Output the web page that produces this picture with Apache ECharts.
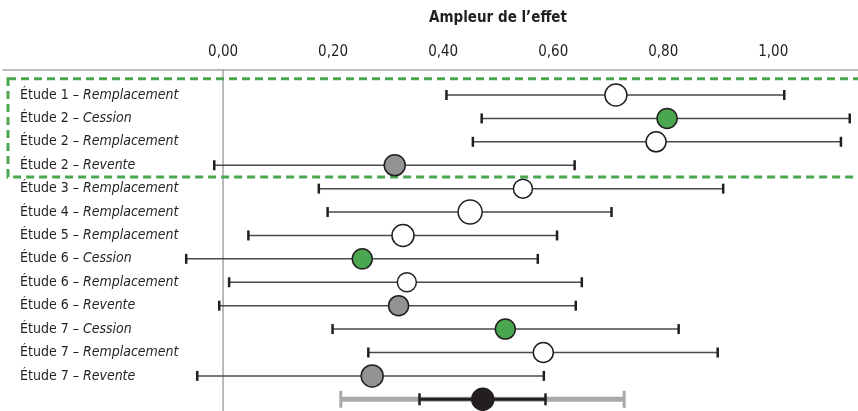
<!DOCTYPE html>
<html>
<head>
<meta charset="utf-8">
<script src="https://cdn.jsdelivr.net/npm/echarts@6/dist/echarts.min.js"></script>
<style>
  html, body { margin: 0; padding: 0; background: #fff; }
  #chart { width: 858px; height: 411px; }
</style>
</head>
<body>
<div id="chart"></div>
<script>
// Study labels, outcome type, effect estimates with their confidence bounds
const studies = ['Étude 1', 'Étude 2', 'Étude 2', 'Étude 2', 'Étude 3', 'Étude 4', 'Étude 5',
                 'Étude 6', 'Étude 6', 'Étude 6', 'Étude 7', 'Étude 7', 'Étude 7'];
const outcomes = ['Remplacement', 'Cession', 'Remplacement', 'Revente', 'Remplacement', 'Remplacement',
                  'Remplacement', 'Cession', 'Remplacement', 'Revente', 'Cession', 'Remplacement', 'Revente'];
const estimates = [0.714, 0.807, 0.787, 0.312, 0.545, 0.449, 0.327, 0.253, 0.334, 0.319, 0.513, 0.582, 0.271];
const lowerCI   = [0.406, 0.470, 0.454, -0.016, 0.174, 0.190, 0.046, -0.067, 0.011, -0.007, 0.199, 0.264, -0.047];
const upperCI   = [1.020, 1.139, 1.123, 0.639, 0.909, 0.706, 0.607, 0.572, 0.652, 0.641, 0.828, 0.899, 0.583];
const weights   = [22, 20, 20, 21, 19, 24, 22, 20, 19, 20, 20, 20, 22];

// Pooled effect: estimate, confidence interval and prediction interval
const pooled = { est: 0.472, lo: 0.357, hi: 0.586, predLo: 0.214, predHi: 0.729, size: 22 };

const tickValues = [0, 0.2, 0.4, 0.6, 0.8, 1.0];
const highlightedRows = 4; // first four rows are framed

const fillByOutcome = { Remplacement: '#ffffff', Cession: '#4aa74f', Revente: '#939393' };

const FONT = "'Liberation Sans Narrow', 'DejaVu Sans Condensed', 'Liberation Sans', sans-serif";

const categories = studies.map((s, i) => i).concat(['pooled']);
const labelText = studies.map((s, i) => '{a|' + s + ' – }{b|' + outcomes[i] + '}').concat(['']);

const rowData = estimates.map((e, i) => [i, lowerCI[i], e, upperCI[i]]);
const pointData = estimates.map((e, i) => ({
  value: [e, i],
  symbolSize: weights[i],
  itemStyle: { color: fillByOutcome[outcomes[i]] }
}));
pointData.push({ value: [pooled.est, studies.length], symbolSize: pooled.size, itemStyle: { color: '#231f20' } });

const chart = echarts.init(document.getElementById('chart'), null, { renderer: 'canvas' });

chart.setOption({
  animation: false,
  backgroundColor: '#ffffff',
  graphic: [{
    type: 'text',
    x: 498,
    y: 18,
    style: {
      text: 'Ampleur de l’effet',
      font: 'bold 15px ' + FONT,
      fill: '#231f20',
      align: 'center',
      verticalAlign: 'middle'
    }
  }],
  grid: { left: 0, right: 0, top: 83.3, bottom: 0, containLabel: false },
  xAxis: {
    type: 'value',
    position: 'top',
    offset: 14,
    min: -0.4,
    max: 1.154,
    interval: 0.2,
    axisLine: { show: true, lineStyle: { color: '#a6a6a6', width: 1.5 } },
    axisTick: { show: false },
    splitLine: { show: false },
    axisLabel: {
      margin: 10,
      fontFamily: FONT,
      fontSize: 15,
      color: '#231f20',
      showMaxLabel: false,
      formatter: v => {
        const hit = tickValues.find(t => Math.abs(t - v) < 1e-6);
        return hit === undefined ? '' : hit.toFixed(2).replace('.', ',');
      }
    }
  },
  yAxis: {
    type: 'category',
    inverse: true,
    data: categories,
    axisLine: { show: false },
    axisTick: { show: false },
    splitLine: { show: false },
    axisLabel: {
      inside: true,
      margin: 17,
      formatter: (v, i) => labelText[i],
      rich: {
        a: { fontFamily: FONT, fontSize: 14, color: '#231f20' },
        b: { fontFamily: FONT, fontSize: 14, fontStyle: 'italic', color: '#231f20' }
      }
    }
  },
  series: [
    {
      // zero reference line and dashed frame around the highlighted rows
      type: 'custom',
      silent: true,
      data: [[0]],
      z: 1,
      renderItem: (params, api) => {
        const cs = params.coordSys;
        const zero = api.coord([0, 0]);
        const band = api.size([0, 1])[1];
        const firstRow = api.coord([0, 0])[1];
        const lastRow = api.coord([0, highlightedRows - 1])[1];
        return {
          type: 'group',
          children: [
            {
              type: 'line',
              shape: { x1: zero[0], y1: cs.y - 14, x2: zero[0], y2: cs.y + cs.height },
              style: { stroke: '#a6a6a6', lineWidth: 1.5 }
            },
            {
              type: 'rect',
              z2: 10,
              shape: { x: 8, y: firstRow - band / 2 - 4.5, width: 900, height: (lastRow - firstRow) + band + 4.5 },
              style: { fill: 'none', stroke: '#4aa74f', lineWidth: 3, lineDash: [8, 5] }
            }
          ]
        };
      }
    },
    {
      // confidence interval whiskers for each study
      type: 'custom',
      silent: true,
      data: rowData,
      encode: { x: [1, 2, 3], y: 0 },
      z: 2,
      renderItem: (params, api) => {
        const row = api.value(0);
        const lo = api.coord([api.value(1), row]);
        const hi = api.coord([api.value(3), row]);
        const capH = 10;
        return {
          type: 'group',
          children: [
            { type: 'line', shape: { x1: lo[0], y1: lo[1], x2: hi[0], y2: hi[1] },
              style: { stroke: '#4a4a4a', lineWidth: 1.5 } },
            { type: 'line', shape: { x1: lo[0], y1: lo[1] - capH / 2, x2: lo[0], y2: lo[1] + capH / 2 },
              style: { stroke: '#231f20', lineWidth: 2.5 } },
            { type: 'line', shape: { x1: hi[0], y1: hi[1] - capH / 2, x2: hi[0], y2: hi[1] + capH / 2 },
              style: { stroke: '#231f20', lineWidth: 2.5 } }
          ]
        };
      }
    },
    {
      // pooled estimate: prediction interval (grey) and confidence interval (black)
      type: 'custom',
      silent: true,
      data: [[studies.length, pooled.predLo, pooled.lo, pooled.hi, pooled.predHi]],
      encode: { x: [1, 2, 3, 4], y: 0 },
      z: 2,
      renderItem: (params, api) => {
        const row = api.value(0);
        const pl = api.coord([api.value(1), row]);
        const l = api.coord([api.value(2), row]);
        const h = api.coord([api.value(3), row]);
        const ph = api.coord([api.value(4), row]);
        const y = pl[1];
        return {
          type: 'group',
          children: [
            { type: 'line', shape: { x1: pl[0], y1: y, x2: ph[0], y2: y }, style: { stroke: '#a7a9ac', lineWidth: 5 } },
            { type: 'line', shape: { x1: pl[0], y1: y - 8.5, x2: pl[0], y2: y + 8.5 }, style: { stroke: '#a7a9ac', lineWidth: 3 } },
            { type: 'line', shape: { x1: ph[0], y1: y - 8.5, x2: ph[0], y2: y + 8.5 }, style: { stroke: '#a7a9ac', lineWidth: 3 } },
            { type: 'line', shape: { x1: l[0], y1: y, x2: h[0], y2: y }, style: { stroke: '#231f20', lineWidth: 3 } },
            { type: 'line', shape: { x1: l[0], y1: y - 6, x2: l[0], y2: y + 6 }, style: { stroke: '#231f20', lineWidth: 2.5 } },
            { type: 'line', shape: { x1: h[0], y1: y - 6, x2: h[0], y2: y + 6 }, style: { stroke: '#231f20', lineWidth: 2.5 } }
          ]
        };
      }
    },
    {
      type: 'scatter',
      silent: true,
      z: 3,
      symbol: 'circle',
      data: pointData,
      itemStyle: { borderColor: '#231f20', borderWidth: 1.5, opacity: 1 }
    }
  ]
});
</script>
</body>
</html>
